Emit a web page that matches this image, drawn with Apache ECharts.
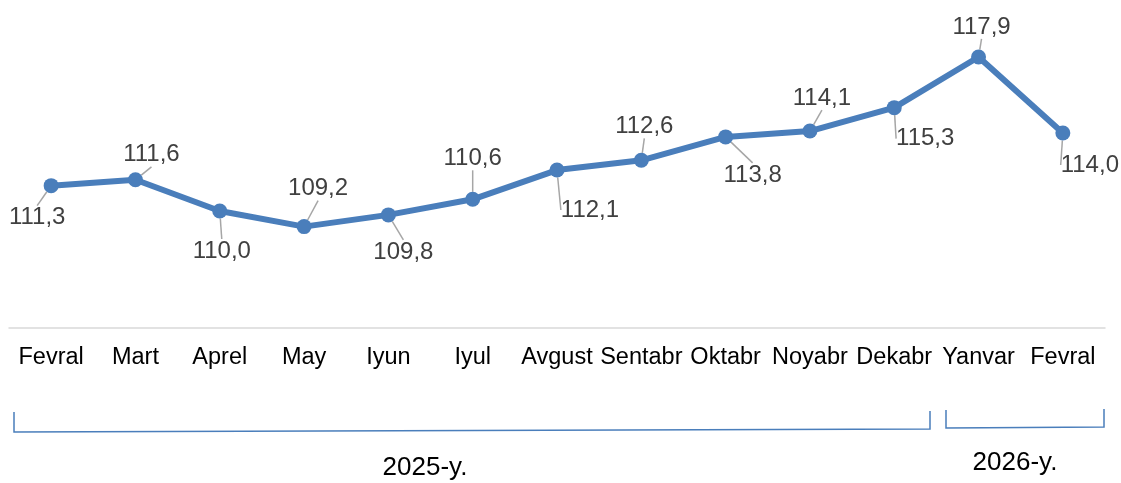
<!DOCTYPE html>
<html><head><meta charset="utf-8">
<script src="https://cdn.jsdelivr.net/npm/echarts@6/dist/echarts.min.js"></script>
<style>html,body{margin:0;padding:0;background:#fff}#c{width:1121px;height:483px}</style>
</head><body><div id="c"></div>
<script>
const categories = ['Fevral','Mart','Aprel','May','Iyun','Iyul','Avgust','Sentabr','Oktabr','Noyabr','Dekabr','Yanvar','Fevral'];
const values = [111.3,111.6,110.0,109.2,109.8,110.6,112.1,112.6,113.8,114.1,115.3,117.9,114.0];
const yearLabels = ['2025-y.','2026-y.'];
// label offsets (px) relative to each point
const labelDx = [-14,16,2,14,15,0,33,3,27,12,31,3,27];
const labelDy = [32,-25,40,-38,37,-41,40,-34,38,-33,31,-30,32];

const chart = echarts.init(document.getElementById('c'));
const font = '"Liberation Sans", Arial, sans-serif';
chart.setOption({
  animation:false,
  grid:{left:9,right:16,top:16,bottom:155},
  xAxis:{type:'category',data:categories,boundaryGap:true,
    axisLine:{lineStyle:{color:'#d9d9d9',width:1.5}},axisTick:{show:false},
    axisLabel:{color:'#000',fontSize:23.5,fontFamily:font,margin:18,interval:0}},
  yAxis:{type:'value',min:104,max:120,show:false,splitLine:{show:false}},
  series:[{type:'line',data:values,symbol:'circle',symbolSize:15,
    lineStyle:{color:'#4a7ebb',width:6},itemStyle:{color:'#4a7ebb'},
    label:{show:true,position:'inside',color:'#404040',fontSize:24,fontFamily:font,
      formatter:p=>p.value.toFixed(1).replace('.',',')},
    labelLine:{show:true,lineStyle:{color:'#a6a6a6',width:1.5}},
    labelLayout:function(p){return {dx:labelDx[p.dataIndex],dy:labelDy[p.dataIndex]};}
  }],
  graphic:[
    {type:'polyline',shape:{points:[[14,412],[14,432],[930,429],[930,411]]},style:{stroke:'#4a7ebb',lineWidth:1.5,fill:null}},
    {type:'polyline',shape:{points:[[946,410],[946,428],[1104,427],[1104,409]]},style:{stroke:'#4a7ebb',lineWidth:1.5,fill:null}},
    {type:'text',x:425,y:468,style:{text:yearLabels[0],fill:'#000',font:'26px '+font,textAlign:'center',textVerticalAlign:'middle'}},
    {type:'text',x:1015,y:463,style:{text:yearLabels[1],fill:'#000',font:'26px '+font,textAlign:'center',textVerticalAlign:'middle'}}
  ]
});
</script></body></html>
